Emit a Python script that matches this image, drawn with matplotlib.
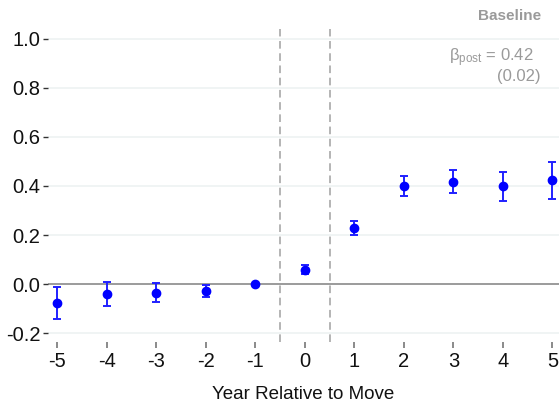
import matplotlib
matplotlib.use("Agg")
import matplotlib.pyplot as plt
import numpy as np

plt.rcParams['font.family'] = ['Liberation Sans Narrow', 'Liberation Sans', 'DejaVu Sans']

# event-study estimates
years = [-5, -4, -3, -2, -1, 0, 1, 2, 3, 4, 5]
coef = [-0.076, -0.039, -0.034, -0.027, 0.0, 0.060, 0.229, 0.399, 0.418, 0.399, 0.424]
ci_low = [-0.141, -0.090, -0.073, -0.053, 0.0, 0.040, 0.200, 0.358, 0.371, 0.339, 0.347]
ci_high = [-0.010, 0.010, 0.004, -0.001, 0.0, 0.079, 0.259, 0.441, 0.467, 0.455, 0.497]
y_ticks = [-0.2, 0.0, 0.2, 0.4, 0.6, 0.8, 1.0]
panel_title = "Baseline"
beta_post = 0.42
beta_se = 0.02

coef = np.array(coef)
err = np.vstack([coef - np.array(ci_low), np.array(ci_high) - coef])

fig = plt.figure(figsize=(5.59, 4.07), dpi=100)
ax = fig.add_axes([48 / 559, 65 / 407, 511 / 559, 313 / 407])

# gridlines and reference lines
for yt in y_ticks:
    if yt != 0:
        ax.axhline(yt, color='#edf2f2', lw=1.2, zorder=0)
ax.axhline(0, color='#8a8a8a', lw=1.2, zorder=1)
for xv in (-0.5, 0.5):
    ax.axvline(xv, color='#a0a0a0', lw=1.1, ls=(0, (5, 3)), zorder=1)

# estimates with confidence intervals
ax.errorbar(years, coef, yerr=err, fmt='none', ecolor='#2020ff', elinewidth=1.4,
            capsize=3, capthick=1.4, zorder=2)
ax.plot(years, coef, 'o', color='#0000ff', ms=6, zorder=3)

ax.set_xlim(-5.19, 5.135)
ax.set_ylim(-0.235, 1.039)
ax.set_xticks(years)
ax.set_xticklabels([str(y) for y in years])
ax.set_yticks(y_ticks)
ax.set_yticklabels(['%.1f' % y for y in y_ticks])

for s in ax.spines.values():
    s.set_visible(False)

ax.tick_params(axis='y', length=3.5, width=1, color='#333333', pad=2,
               labelsize=14.5, labelcolor='#111111')
ax.tick_params(axis='x', length=4, width=1.2, color='#777777', pad=3,
               labelsize=14.5, labelcolor='#111111')
ax.set_xlabel("Year Relative to Move", fontsize=13.5, color='#111111', labelpad=11)

# panel title and coefficient annotation
fig.text(541 / 559, 1 - 16 / 407, panel_title, ha='right', va='center',
         fontsize=11, fontweight='bold', color='#9a9a9a')
fig.text(534 / 559, 1 - 58 / 407, r'$\mathregular{\beta_{post}}$ = %.2f' % beta_post,
         ha='right', va='center', fontsize=12, color='#9a9a9a')
fig.text(541 / 559, 1 - 77 / 407, '(%.2f)' % beta_se, ha='right', va='center',
         fontsize=12, color='#9a9a9a')

fig.savefig('out.png', dpi=100)
